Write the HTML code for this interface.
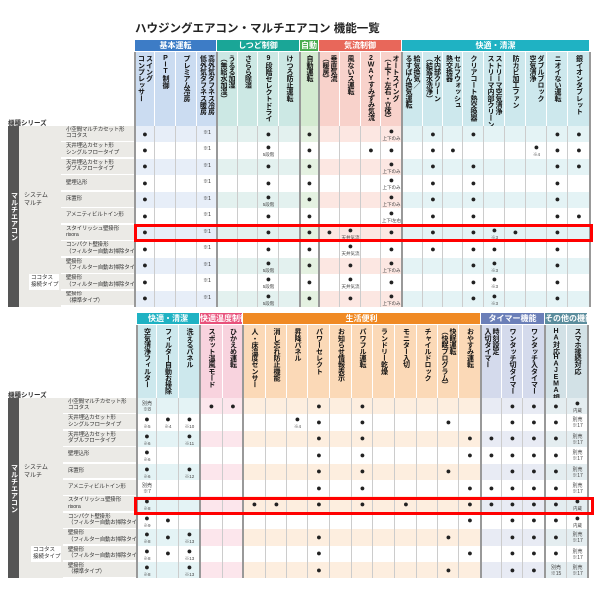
<!DOCTYPE html>
<html><head><meta charset="utf-8">
<style>
body{margin:0;background:#fff;width:600px;height:600px;overflow:hidden;position:relative;font-family:"Liberation Sans","Noto Sans CJK JP",sans-serif;color:#222}
.a{position:absolute;box-sizing:border-box}
.band{color:#fff;font-weight:bold;font-size:8px;text-align:center;line-height:11px;white-space:nowrap;overflow:hidden}
.ch{writing-mode:vertical-rl;font-size:7px;line-height:8px;padding-top:3px;color:#111;font-weight:bold;display:flex;align-items:center;justify-content:flex-start;white-space:nowrap;overflow:hidden;letter-spacing:-0.4px}
.cell{text-align:center;font-size:9px;line-height:9px}
.n{display:block;font-size:4.5px;line-height:5px;color:#444}
.lb{font-size:5.5px;line-height:6.5px;padding-left:5px;display:flex;align-items:center;color:#333;white-space:nowrap;overflow:hidden;letter-spacing:-0.2px}
</style></head><body>
<div class="a" style="left:135px;top:20px;font-size:11.5px;font-weight:bold;white-space:nowrap">ハウジングエアコン・マルチエアコン 機能一覧</div>
<div id="root"></div>
<script>
const root=document.getElementById('root');
function el(css,html,cls){const d=document.createElement('div');d.className='a '+(cls||'');d.style.cssText=css;d.innerHTML=html||'';root.appendChild(d);return d;}
const labels=["小空間マルチカセット形<br>ココタス","天井埋込カセット形<br>シングルフロータイプ","天井埋込カセット形<br>ダブルフロータイプ","壁埋込形","床置形","アメニティビルトイン形","スタイリッシュ壁掛形<br>risora","コンパクト壁掛形<br>（フィルター自動お掃除タイプ）","壁掛形<br>（フィルター自動お掃除タイプ）","壁掛形<br>（フィルター自動お掃除タイプ）","壁掛形<br>（標準タイプ）"];
function table(cfg){
 const {bandTop,chTop,rowTop,rowH,groups,cols,edges,data,lblX}=cfg;
 const nR=11,bot=rowTop+rowH*nR;
 el(`left:8px;top:${rowTop-9}px;font-size:6.5px;font-weight:bold;color:#333;white-space:nowrap`,'機種シリーズ');
 el(`left:8px;top:${rowTop}px;width:11px;height:${bot-rowTop}px;background:#555;color:#fff;writing-mode:vertical-rl;font-size:7px;font-weight:bold;display:flex;align-items:center;justify-content:center`,'マルチエアコン');
 el(`left:19px;top:${rowTop}px;width:${lblX-19}px;height:${bot-rowTop}px;background:#ebeae6`);
 el(`left:24px;top:${rowTop+rowH*4}px;font-size:6px;line-height:8px;color:#333`,'システム<br>マルチ');
 el(`left:${lblX-32}px;top:${rowTop+rowH*9}px;width:30px;height:${rowH}px;background:#fff;font-size:5.5px;line-height:7px;padding:1px 0 0 2px;color:#333;white-space:nowrap`,'ココタス<br>接続タイプ');
 for(let r=0;r<nR;r++){el(`left:${lblX}px;top:${rowTop+r*rowH}px;width:${edges[0]-lblX-1}px;height:${rowH-1.5}px;background:#ebeae6`,labels[r],'lb');
  el(`left:${lblX}px;top:${rowTop+(r+1)*rowH-1.5}px;width:${edges[0]-lblX}px;height:1.5px;background:#fff`);}
 let ci=0;
 groups.forEach(g=>{const x0=edges[ci],x1=edges[ci+g.n];
  el(`left:${x0}px;top:${bandTop}px;width:${x1-x0-1}px;height:11px;background:${g.c}`,g.t,'band');
  for(let k=0;k<g.n;k++){const c=ci+k,a=edges[c],b=edges[c+1];
   el(`left:${a}px;top:${chTop}px;width:${b-a}px;height:${rowTop-chTop}px;background:${g.h};border-right:1px solid #fff`,cols[c],'ch');
   for(let r=0;r<nR;r++)el(`left:${a}px;top:${rowTop+r*rowH}px;width:${b-a}px;height:${rowH}px;background:${r%2==0?g.l:'#fff'}`);
   el(`left:${b-1}px;top:${rowTop}px;width:1px;height:${bot-rowTop}px;background:#ccc`);
  }
  el(`left:${x0-1}px;top:${chTop}px;width:1.5px;height:${bot-chTop}px;background:#999`);
  ci+=g.n;});
 el(`left:${edges[edges.length-1]-1}px;top:${chTop}px;width:1.5px;height:${bot-chTop}px;background:#999`);
 data.forEach((row,r)=>{row.split(',').forEach(t=>{if(!t)return;let [c,note]=t.split(':');c=+c;const a=edges[c],b=edges[c+1];
   let html=note&&note.startsWith('別売')?`<span class="n" style="font-size:5px;line-height:6px;padding-top:2px">別売<br>${note.slice(2)}</span>`:(note&&note.startsWith('t')?`<span style="font-size:5px">${note.slice(1)}</span>`:`●${note?'<span class="n">'+note+'</span>':''}`);
   el(`left:${a}px;top:${rowTop+r*rowH+(note?1:3.5)}px;width:${b-a}px;height:${rowH}px`,html,'cell');});});
 return bot;
}
table({bandTop:40,chTop:52,rowTop:126,rowH:16.45,lblX:61,
 edges:[135,155,176,197,217,238,258,279,300,319,340,361,381,402,423,443,463,484,505,526,547,568,590],
 groups:[{t:'基本運転',n:4,c:'#3d7cc6',h:'#cbdcf1',l:'#e7eef8'},{t:'しつど制御',n:4,c:'#1aa697',h:'#cce8e4',l:'#e3f1ef'},{t:'自動',n:1,c:'#4aad52',h:'#d3ead0',l:'#e4f1e1'},{t:'気流制御',n:4,c:'#e8675a',h:'#f8d2cb',l:'#fce7e2'},{t:'快適・清潔',n:9,c:'#1fb2c3',h:'#cde8ed',l:'#e4f3f5'}],
 cols:['スイング<br>コンプレッサー','<span style="text-orientation:upright">PIT</span>制御','プレミアム冷房','高外気タフネス冷房<br>低外気タフネス暖房','うるる加湿<br>（無給水加湿）','さらら除湿','<span style="text-orientation:upright">9</span>段階セレクトドライ','けつろ防止運転','自動運転','垂直気流<br>（暖房）','風ないス運転','<span style="text-orientation:upright">2WAY</span>すみずみ気流','オートスイング<br>（上下・左右・立体）','給気換気／<br>るすばん換気運転','水内部クリーン<br>（結露水洗浄）','セルフウォッシュ<br>熱交換器','クリアコート熱交換器','ストリーマ空気清浄<br>ストリーマ内部クリーン','防カビ加工ファン','ダブルブロック<br>空気清浄','ニオイない運転','銀イオンタブレット'],
 data:['0,3:t※1,6,8,12:上下のみ,14,16,20,21','0,3:t※1,6:5段階,8,11,12,14,15,19:※4,20,21','0,3:t※1,6,8,12:上下のみ,14,16,20,21','0,3:t※1,6,8,12:上下のみ,14,16,20','0,3:t※1,6:5段階,8,12:上下のみ,14,16,20','0,3:t※1,6,8,12:上下/左右,14,16,20,21','0,3:t※1,6,8,9,10:天井気流,12,14,16,17:※3,18,20','0,3:t※1,6,8,10:天井気流,12,14,16,17,20','0,3:t※1,6:5段階,8,10,12:上下のみ,16,17:※3,20','0,3:t※1,6:5段階,8,10:天井気流,12,16,17:※3,20','0,3:t※1,6:5段階,8,10,12:上下のみ,16,17:※3,20']});
table({bandTop:313,chTop:325,rowTop:398,rowH:16.4,lblX:63,
 edges:[137,157,179,200,223,243,266,287,308,330,352,373,395,417,438,459,481,502,523,545,567,588],
 groups:[{t:'快適・清潔',n:3,c:'#1fb2c3',h:'#cde8ed',l:'#e4f3f5'},{t:'快適温度制御',n:2,c:'#e8527b',h:'#f8d3de',l:'#fce6ec'},{t:'生活便利',n:11,c:'#f08a24',h:'#fbd9b7',l:'#fdeedf'},{t:'タイマー機能',n:3,c:'#6b7fb8',h:'#d4daec',l:'#e8ebf4'},{t:'その他の機能',n:2,c:'#5b8d9d',h:'#d2e1e6',l:'#e4edf0'}],
 cols:['空気清浄フィルター','フィルター自動お掃除','洗えるパネル','スポット温風モード','ひかえめ運転','人・床温度センサー','消し忘れ防止機能','昇降パネル','パワーセレクト','お知らせ情報表示','パワフル運転','ランドリー乾燥','モニター入切','チャイルドロック','快眠運転<br>（快眠プログラム）','おやすみ運転','時刻設定<br>入切タイマー','ワンタッチ切タイマー','ワンタッチ入タイマー','<span style="text-orientation:upright">HA</span>対応<br><span style="text-orientation:upright">HAJEMA</span>規格対応','スマホ接続対応'],
 data:['0:別売※8,3,4,8,10,17,18,19,20:内蔵','0:※5,1:※4,2:※10,7:※4,8,10,14,17,18,19,20:別売※17','0:※6,2:※11,8,10,15,16,17,18,19,20:別売※17','0:※6,8,10,15,16,17,18,19,20:別売※17','0:※6,2:※12,8,10,14,17,18,19,20:別売※17','0:別売※7,8,10,15,16,17,18,19,20:別売※17','0:※8,5,6,8,10,12,15,16,17,18,19,20:内蔵','0:※9,1,15,17,18,19,20:内蔵','0:※8,1,2:※13,8,14,17,18,19,20:別売※17','0:※8,1,2:※13,8,15,17,18,19,20:別売※17','0:※8,2:※13,8,14,17,18,19:別売※15,20:別売※17']});
el('left:134px;top:224px;width:459px;height:18px;border:3px solid #f00');
el('left:134px;top:497px;width:460px;height:18px;border:3px solid #f00');
</script>
</body></html>
